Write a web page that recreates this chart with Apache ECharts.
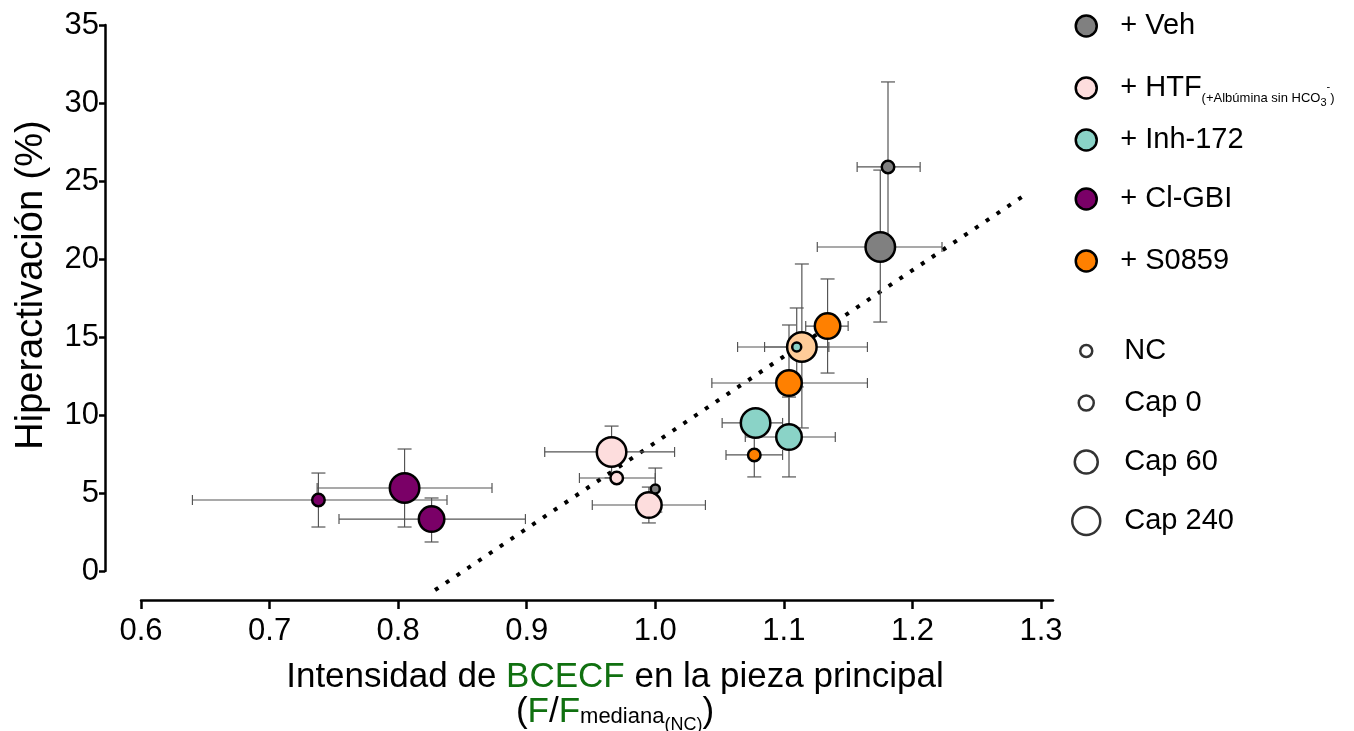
<!DOCTYPE html>
<html><head><meta charset="utf-8">
<script src="https://cdn.jsdelivr.net/npm/echarts@6/dist/echarts.min.js"></script>
<style>html,body{margin:0;padding:0;background:#fff}#c{width:1354px;height:731px}</style>
</head><body><div id="c"></div>
<script>
// ---------- data ----------
const xTicks = [0.6, 0.7, 0.8, 0.9, 1.0, 1.1, 1.2, 1.3];
const sizeClasses = ['NC', 'Cap 0', 'Cap 60', 'Cap 240'];
const colorLegendNames = ['+ Veh', '+ HTF', '+ Inh-172', '+ Cl-GBI', '+ S0859'];

const htfX   = [0.966, 0.970, 0.995];
const htfY   = [7.63, 5.96, 4.23];
const htfXLo = [0.914, 0.941, 0.951];
const htfXHi = [1.015, 1.000, 1.039];
const htfYLo = [5.97, 5.96, 3.08];
const htfYHi = [9.29, 5.96, 5.38];
const htfCls = ['Cap 240', 'Cap 0', 'Cap 60'];

const vehX   = [1.000, 1.181, 1.175];
const vehY   = [5.26, 25.9, 20.77];
const vehXLo = [1.000, 1.157, 1.126];
const vehXHi = [1.000, 1.206, 1.223];
const vehYLo = [3.78, 20.45, 15.96];
const vehYHi = [6.60, 31.35, 25.70];
const vehCls = ['NC', 'Cap 0', 'Cap 240'];

const mixX   = [1.114];
const mixY   = [14.36];
const mixXLo = [1.064];
const mixXHi = [1.165];
const mixYLo = [9.17];
const mixYHi = [19.68];
const mixCls = ['Cap 240'];

const inhX   = [1.110, 1.078, 1.104];
const inhY   = [14.36, 9.49, 8.59];
const inhXLo = [1.085, 1.052, 1.070];
const inhXHi = [1.135, 1.099, 1.140];
const inhYLo = [11.80, 8.70, 6.03];
const inhYHi = [16.86, 10.30, 11.15];
const inhCls = ['NC', 'Cap 240', 'Cap 60'];

const clX   = [0.738, 0.805, 0.826];
const clY   = [4.55, 5.32, 3.33];
const clXLo = [0.640, 0.737, 0.754];
const clXHi = [0.838, 0.873, 0.899];
const clYLo = [2.82, 2.82, 1.86];
const clYHi = [6.28, 7.82, 4.68];
const clCls = ['Cap 0', 'Cap 240', 'Cap 60'];

const soX   = [1.134, 1.104, 1.077];
const soY   = [15.70, 12.05, 7.44];
const soXLo = [1.117, 1.044, 1.055];
const soXHi = [1.150, 1.165, 1.099];
const soYLo = [12.69, 8.33, 6.03];
const soYHi = [18.72, 15.77, 8.85];
const soCls = ['Cap 60', 'Cap 60', 'Cap 0'];

const fitX = [0.8287, 1.285];
const fitY = [-1.22, 23.97];

// ---------- styling ----------
const FONT = 'Liberation Sans, Arial, Helvetica, sans-serif';
const GREEN = '#107010';
const SIZE_PX = { 'NC': 9, 'Cap 0': 12.5, 'Cap 60': 25.5, 'Cap 240': 29.5 };

const groups = [
  { name: '+ HTF',       X: htfX, Y: htfY, XL: htfXLo, XH: htfXHi, YL: htfYLo, YH: htfYHi, C: htfCls, color: '#FDDDDD' },
  { name: '+ Veh',       X: vehX, Y: vehY, XL: vehXLo, XH: vehXHi, YL: vehYLo, YH: vehYHi, C: vehCls, color: '#808080' },
  { name: 'HTF + S0859', X: mixX, Y: mixY, XL: mixXLo, XH: mixXHi, YL: mixYLo, YH: mixYHi, C: mixCls, color: '#FFCC99' },
  { name: '+ Inh-172',   X: inhX, Y: inhY, XL: inhXLo, XH: inhXHi, YL: inhYLo, YH: inhYHi, C: inhCls, color: '#8AD3C7' },
  { name: '+ Cl-GBI',    X: clX,  Y: clY,  XL: clXLo,  XH: clXHi,  YL: clYLo,  YH: clYHi,  C: clCls,  color: '#7A0067' },
  { name: '+ S0859',     X: soX,  Y: soY,  XL: soXLo,  XH: soXHi,  YL: soYLo,  YH: soYHi,  C: soCls,  color: '#FF8000' }
];

const errData = [];
const scatterSeries = [];
groups.forEach(g => {
  const pts = g.X.map((x, i) => [x, g.Y[i], sizeClasses.indexOf(g.C[i])]);
  g.X.forEach((x, i) => errData.push([x, g.Y[i], g.XL[i], g.XH[i], g.YL[i], g.YH[i]]));
  scatterSeries.push({
    name: g.name, type: 'scatter', xAxisIndex: 0, yAxisIndex: 0, z: 5,
    data: pts,
    symbolSize: v => SIZE_PX[sizeClasses[v[2]]],
    itemStyle: { color: g.color, borderColor: '#000', borderWidth: 2.5, opacity: 1 },
    emphasis: { disabled: true }
  });
});

const sizeSeries = sizeClasses.map(n => ({
  name: n, type: 'scatter', xAxisIndex: 0, yAxisIndex: 0, data: [],
  itemStyle: { color: '#fff', borderColor: '#000', borderWidth: 2.5 }
}));

const errSeries = {
  type: 'custom', xAxisIndex: 0, yAxisIndex: 0, z: 3, silent: true,
  data: errData,
  encode: { x: 0, y: 1 },
  renderItem: (params, api) => {
    const x = api.value(0), y = api.value(1);
    const xl = api.value(2), xh = api.value(3), yl = api.value(4), yh = api.value(5);
    const st = { stroke: '#555', lineWidth: 1.2, fill: null };
    const ch = [];
    if (xh > xl) {
      const a = api.coord([xl, y]), b = api.coord([xh, y]);
      ch.push({ type: 'line', shape: { x1: a[0], y1: a[1], x2: b[0], y2: b[1] }, style: st });
      ch.push({ type: 'line', shape: { x1: a[0], y1: a[1] - 5, x2: a[0], y2: a[1] + 5 }, style: st });
      ch.push({ type: 'line', shape: { x1: b[0], y1: b[1] - 5, x2: b[0], y2: b[1] + 5 }, style: st });
    }
    if (yh > yl) {
      const a = api.coord([x, yl]), b = api.coord([x, yh]);
      ch.push({ type: 'line', shape: { x1: a[0], y1: a[1], x2: b[0], y2: b[1] }, style: st });
      ch.push({ type: 'line', shape: { x1: a[0] - 7, y1: a[1], x2: a[0] + 7, y2: a[1] }, style: st });
      ch.push({ type: 'line', shape: { x1: b[0] - 7, y1: b[1], x2: b[0] + 7, y2: b[1] }, style: st });
    }
    return { type: 'group', children: ch };
  }
};

const fitSeries = {
  type: 'line', xAxisIndex: 0, yAxisIndex: 0, z: 2, clip: false, silent: true,
  data: fitX.map((x, i) => [x, fitY[i]]),
  symbol: 'none',
  lineStyle: { color: '#000', width: 4, type: [4, 9], cap: 'butt' }
};

// ---------- legends (one component per row) ----------
const ICON_CX = 1085;
function makeLegend(name, centerY, d, textX, fill) {
  const left = ICON_CX - d / 2;
  const pl = Math.max(0, textX - (left + d + 5));
  const isHtf = name === '+ HTF';
  const leg = {
    orient: 'vertical', left: left, top: centerY - 17, padding: 0,
    itemWidth: d, itemHeight: d, selectedMode: false,
    data: [{ name: name, icon: 'circle' }],
    itemStyle: { borderColor: '#000', borderWidth: 2.5 },
    formatter: n => isHtf
      ? '{b|+ HTF}{s|(+Albúmina sin HCO}{sub|3}{sup|-}{s|)}'
      : '{b|' + n + '}',
    textStyle: {
      fontSize: 29, lineHeight: 34, color: '#000', fontFamily: FONT,
      rich: {
        b: { fontSize: 29, lineHeight: 34, color: '#000', fontFamily: FONT, padding: [0, 0, 0, pl] },
        s: { fontSize: 13, lineHeight: 14, color: '#000', fontFamily: FONT, verticalAlign: 'bottom', padding: [0, 0, 0, 0] },
        sub: { fontSize: 11, lineHeight: 10, color: '#000', fontFamily: FONT, verticalAlign: 'bottom', padding: [0, 0, -3, 0] },
        sup: { fontSize: 11, lineHeight: 10, color: '#000', fontFamily: FONT, verticalAlign: 'bottom', padding: [0, 0, 13, 0] }
      }
    }
  };
  if (fill) leg.itemStyle.color = fill;
  return leg;
}
const colorLegendY = [26, 88, 140, 199, 261];
const sizeLegendY = [351, 403, 462, 521];
const sizeLegendD = [12, 15, 23, 28];
const legends = colorLegendNames.map((n, i) => makeLegend(n, colorLegendY[i], 21, 1119, null))
  .concat(sizeClasses.map((n, i) => makeLegend(n, sizeLegendY[i], sizeLegendD[i], 1123, '#fff')));

const option = {
  animation: false,
  backgroundColor: '#fff',
  grid: [
    { left: 141, right: 313, top: 25, bottom: 160, containLabel: false, outerBoundsMode: 'none' },
    { left: 141, right: 301, top: 590, height: 10, containLabel: false, outerBoundsMode: 'none' }
  ],
  xAxis: [
    { gridIndex: 0, type: 'value', min: 0.6, max: 1.3, show: false },
    {
      gridIndex: 1, type: 'value', min: 0.6, max: 1.3093,
      axisLine: { show: true, onZero: false, lineStyle: { color: '#000', width: 2.5 } },
      axisTick: { show: true, length: 9, customValues: xTicks, lineStyle: { color: '#000', width: 2.5 } },
      axisLabel: { customValues: xTicks, formatter: v => v.toFixed(1), fontSize: 31, color: '#000', fontFamily: FONT, margin: 16 },
      splitLine: { show: false },
      name: '{t|Intensidad de }{g|BCECF}{t| en la pieza principal}\n{t|(}{g|F}{t|/}{g|F}{m|mediana}{n|(NC)}{t|)}',
      nameLocation: 'middle', nameGap: 60,
      nameTextStyle: {
        fontSize: 35, lineHeight: 35, color: '#000', fontFamily: FONT, padding: [0, 0, 0, 36],
        rich: {
          t: { fontSize: 35, lineHeight: 35, color: '#000', fontFamily: FONT, verticalAlign: 'bottom' },
          g: { fontSize: 35, lineHeight: 35, color: GREEN, fontFamily: FONT, verticalAlign: 'bottom' },
          m: { fontSize: 22, lineHeight: 24, color: '#000', fontFamily: FONT, verticalAlign: 'bottom', padding: [0, 0, 2, 0] },
          n: { fontSize: 18, lineHeight: 18, color: '#000', fontFamily: FONT, verticalAlign: 'bottom', padding: [0, 0, -4, 0] }
        }
      }
    }
  ],
  yAxis: [
    {
      gridIndex: 0, type: 'value', min: 0, max: 35, interval: 5, offset: 36,
      axisLine: { show: true, onZero: false, lineStyle: { color: '#000', width: 2.5 } },
      axisTick: { show: true, length: 6, lineStyle: { color: '#000', width: 2.5 } },
      axisLabel: { fontSize: 31, color: '#000', fontFamily: FONT, margin: 6 },
      splitLine: { show: false },
      name: 'Hiperactivación (%)', nameLocation: 'middle', nameGap: 54, nameRotate: 90,
      nameTextStyle: { fontSize: 38, color: '#000', fontFamily: FONT, padding: [0, 0, 0, 26] }
    },
    { gridIndex: 1, type: 'value', min: 0, max: 1, show: false }
  ],
  legend: legends,
  series: [fitSeries, errSeries].concat(scatterSeries, sizeSeries)
};

echarts.init(document.getElementById('c'), null, { renderer: 'canvas' }).setOption(option);
</script>
</body></html>
